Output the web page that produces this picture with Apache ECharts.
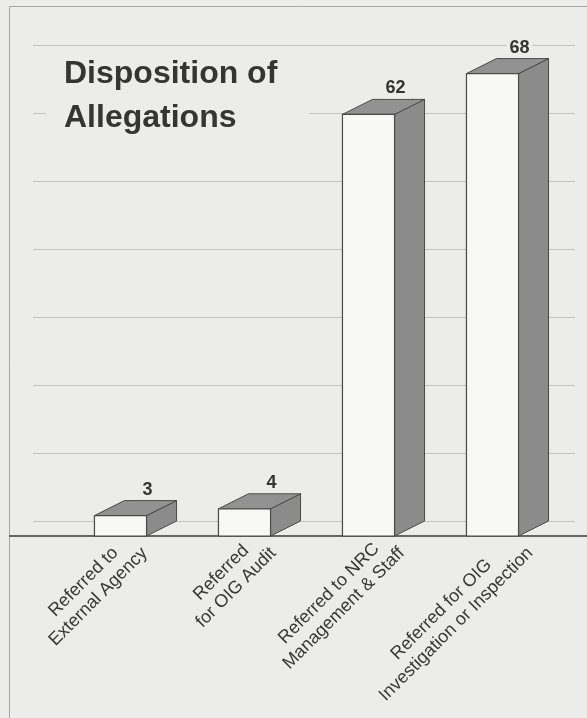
<!DOCTYPE html>
<html>
<head>
<meta charset="utf-8">
<title>Disposition of Allegations</title>
<script src="https://cdn.jsdelivr.net/npm/echarts@6/dist/echarts.min.js"></script>
<style>
  html, body { margin: 0; padding: 0; background: #ececea; }
  #chart { width: 587px; height: 718px; }
</style>
</head>
<body>
<div id="chart"></div>
<script>
// Categories and counts
const categories = [
  'Referred to\nExternal Agency',
  'Referred\nfor OIG Audit',
  'Referred to NRC\nManagement & Staff',
  'Referred for OIG\nInvestigation or Inspection'
];
const allegationCounts = [3, 4, 62, 68];

// Value scale (gridlines every 10, up to 70)
const valueAxisMax = 70;
const valueAxisStep = 10;

// Styling
const BG = '#ececea';
const FONT = '"Liberation Sans", Arial, Helvetica, sans-serif';
const TEXT_COLOR = '#353535';
const FACE_GRAY = '#8b8b8b';
const EDGE = '#4a4a4a';
const DEPTH_X = 30;   // pseudo-3D depth offset
const DEPTH_Y = -15;
const BAR_RATIO = 0.42;

const chart = echarts.init(document.getElementById('chart'), null, { renderer: 'canvas' });

// Draws one pseudo-3D bar: side face, top face, front face and value label
function renderBar(params, api) {
  const value = api.value(1);
  const top = api.coord([api.value(0), value]);
  const base = api.coord([api.value(0), 0]);
  const band = api.size([1, 0])[0];
  const w = band * BAR_RATIO;
  const x0 = top[0] - w / 2;
  const x1 = top[0] + w / 2;
  const yt = top[1];
  const yb = base[1];
  return {
    type: 'group',
    children: [
      {
        type: 'polygon',
        shape: { points: [[x1, yb], [x1 + DEPTH_X, yb + DEPTH_Y], [x1 + DEPTH_X, yt + DEPTH_Y], [x1, yt]] },
        style: { fill: FACE_GRAY, stroke: EDGE, lineWidth: 1 }
      },
      {
        type: 'polygon',
        shape: { points: [[x0, yt], [x0 + DEPTH_X, yt + DEPTH_Y], [x1 + DEPTH_X, yt + DEPTH_Y], [x1, yt]] },
        style: { fill: '#929292', stroke: EDGE, lineWidth: 1 }
      },
      {
        type: 'rect',
        shape: { x: x0, y: yt, width: w, height: yb - yt },
        style: { fill: '#f8f8f6', stroke: EDGE, lineWidth: 1.2 }
      },
      {
        type: 'text',
        x: top[0] + DEPTH_X * 0.9,
        y: yt + DEPTH_Y - 11,
        style: {
          text: String(value),
          fill: TEXT_COLOR,
          fontFamily: FONT,
          fontSize: 18,
          fontWeight: 'bold',
          align: 'center',
          verticalAlign: 'middle',
          backgroundColor: BG,
          padding: [1, 3]
        }
      }
    ]
  };
}

const option = {
  backgroundColor: BG,
  animation: false,
  title: {
    text: 'Disposition of\nAllegations',
    left: 46,
    top: 50,
    padding: [2, 32, 8, 18],
    backgroundColor: BG,
    textStyle: {
      fontFamily: FONT,
      fontSize: 32,
      fontWeight: 'bold',
      lineHeight: 44,
      color: TEXT_COLOR
    }
  },
  grid: [
    { left: 33, right: 12, top: 45, bottom: 197 },       // back wall with gridlines
    { left: 58.5, width: 496, top: 60, bottom: 182 },    // front plane of the bars
    { left: 73, width: 519, top: 60, bottom: 182 }       // category labels
  ],
  xAxis: [
    { gridIndex: 0, type: 'category', data: categories, show: false },
    { gridIndex: 1, type: 'category', data: categories, show: false },
    {
      gridIndex: 2,
      type: 'category',
      data: categories,
      axisLine: { show: false },
      axisTick: { show: false },
      axisLabel: {
        interval: 0,
        rotate: 45,
        margin: 7,
        color: '#383838',
        fontFamily: FONT,
        fontSize: 18,
        lineHeight: 21,
        formatter: v => v.split('\n').map(s => '{c|' + s + '}').join('\n'),
        rich: {
          c: { align: 'center', fontFamily: FONT, fontSize: 18, lineHeight: 21, color: '#383838' }
        }
      }
    }
  ],
  yAxis: [
    {
      gridIndex: 0,
      type: 'value',
      min: 0,
      max: valueAxisMax,
      interval: valueAxisStep,
      axisLine: { show: false },
      axisTick: { show: false },
      axisLabel: { show: false },
      splitLine: { lineStyle: { color: '#c2c2c0', width: 1 } }
    },
    { gridIndex: 1, type: 'value', min: 0, max: valueAxisMax, interval: valueAxisStep, show: false },
    { gridIndex: 2, type: 'value', min: 0, max: valueAxisMax, interval: valueAxisStep, show: false }
  ],
  series: [
    {
      type: 'custom',
      xAxisIndex: 1,
      yAxisIndex: 1,
      z: 5,
      renderItem: renderBar,
      data: allegationCounts.map((v, i) => [i, v])
    }
  ]
};

chart.setOption(option);

// Page frame and the front baseline running across the whole panel
const baseY = chart.convertToPixel({ gridIndex: 1 }, [0, 0])[1];
chart.setOption({
  graphic: [
    {
      id: 'frame',
      type: 'rect',
      silent: true,
      z: 1,
      shape: { x: 9.5, y: 6.5, width: 700, height: 800 },
      style: { fill: 'none', stroke: '#a5a5a3', lineWidth: 1 }
    },
    {
      id: 'baseline',
      type: 'line',
      silent: true,
      z: 4,
      shape: { x1: 9, y1: baseY, x2: 587, y2: baseY },
      style: { stroke: '#666664', lineWidth: 2 }
    }
  ]
});
</script>
</body>
</html>
